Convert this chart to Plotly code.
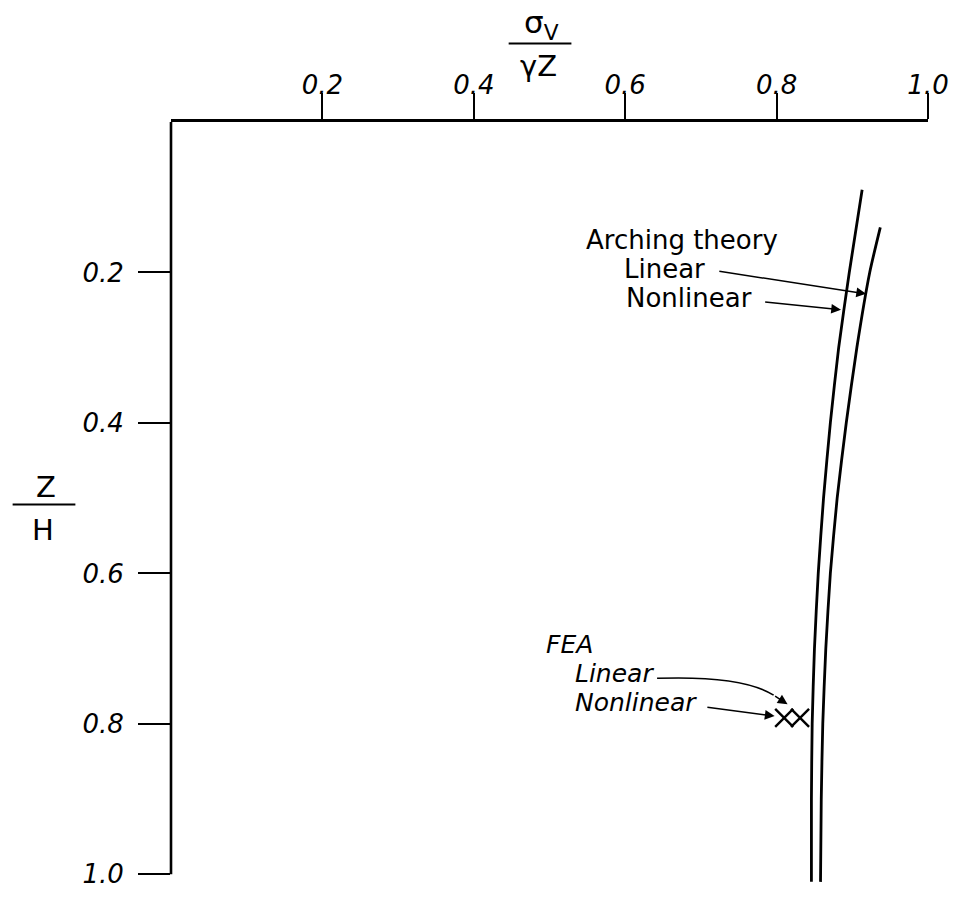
import numpy as np
import plotly.graph_objects as go

# Normalized vertical stress sigma_v / (gamma Z) against depth ratio Z/H
z_arch_linear = [0.14, 0.20, 0.30, 0.40, 0.50, 0.60, 0.70, 0.80, 0.90, 1.01]
s_arch_linear = [0.937, 0.923, 0.906, 0.892, 0.880, 0.871, 0.865, 0.861, 0.859, 0.858]

z_arch_nonlinear = [0.09, 0.20, 0.30, 0.40, 0.50, 0.60, 0.70, 0.80, 0.90, 1.01]
s_arch_nonlinear = [0.913, 0.896, 0.882, 0.871, 0.862, 0.855, 0.850, 0.847, 0.846, 0.846]

# Finite element results at a single depth
z_fea = [0.792]
s_fea_linear = [0.831]
s_fea_nonlinear = [0.810]

tick_vals = [0.2, 0.4, 0.6, 0.8, 1.0]
tick_text = ["0.2", "0.4", "0.6", "0.8", "1.0"]

# ---- layout geometry ----
W, H = 961, 901
ML, MR, MT, MB = 171, 30, 122, 13
Z_MAX = 1.0115                      # lets the curves run just past Z/H = 1
PW = W - ML - MR
PH = H - MT - MB
ZPX = PH / Z_MAX                    # pixels per unit depth


def at(px, py):
    """Pixel position on the page -> (x, z) in data units."""
    return (px - ML) / PW, (py - MT) / ZPX


def paper(px, py):
    """Pixel position on the page -> paper coordinates."""
    return (px - ML) / PW, 1 - (py - MT) / PH


INK = "black"
FONT = "DejaVu Sans"

fig = go.Figure()

line_style = dict(color=INK, width=2.8, shape="spline", smoothing=0.6)
fig.add_trace(go.Scatter(x=s_arch_linear, y=z_arch_linear, mode="lines",
                         line=line_style, name="Arching theory, linear"))
fig.add_trace(go.Scatter(x=s_arch_nonlinear, y=z_arch_nonlinear, mode="lines",
                         line=line_style, name="Arching theory, nonlinear"))

marker_style = dict(symbol="x-thin", size=18, color=INK, line=dict(color=INK, width=2.4))
fig.add_trace(go.Scatter(x=s_fea_linear, y=z_fea, mode="markers",
                         marker=marker_style, name="FEA, linear", cliponaxis=False))
fig.add_trace(go.Scatter(x=s_fea_nonlinear, y=z_fea, mode="markers",
                         marker=marker_style, name="FEA, nonlinear", cliponaxis=False))

annotations = []


def label(text, px, py, size=26, italic=False, xanchor="left"):
    x, y = paper(px, py)
    annotations.append(dict(
        x=x, y=y, xref="paper", yref="paper", text=text, showarrow=False,
        xanchor=xanchor, yanchor="middle",
        font=dict(family=FONT, size=size, color=INK,
                  style="italic" if italic else "normal")))


def arrow(head, tail):
    annotations.append(dict(
        x=head[0], y=head[1], ax=tail[0], ay=tail[1],
        xref="x", yref="y", axref="x", ayref="y", text="",
        showarrow=True, arrowhead=2, arrowsize=1.3, arrowwidth=1.5,
        arrowcolor=INK, standoff=0))


# arching theory labels
label("Arching theory", 586, 241, size=26)
label("Linear", 624, 270, size=26)
label("Nonlinear", 626, 299, size=26)

z_head_lin = at(0, 295)[1]
arrow((float(np.interp(z_head_lin, z_arch_linear, s_arch_linear)), z_head_lin), at(720, 272))
z_head_non = at(0, 311)[1]
arrow((float(np.interp(z_head_non, z_arch_nonlinear, s_arch_nonlinear)) - 0.004, z_head_non),
      at(766, 303))

# FEA labels
label("FEA", 545, 648, size=25, italic=True)
label("Linear", 575, 677, size=25, italic=True)
label("Nonlinear", 575, 706, size=25, italic=True)

# curved leader for the linear FEA point, finished with an arrowhead
p0 = at(659, 682)
pc = at(745, 679)
p1 = at(776, 699)
fea_leader = dict(type="path", xref="x", yref="y",
                  path=f"M {p0[0]},{p0[1]} Q {pc[0]},{pc[1]} {p1[0]},{p1[1]}",
                  line=dict(color=INK, width=1.5))
arrow(at(790, 708), p1)
arrow(at(777, 720), at(708, 711))

# axis titles as stacked fractions
label("σ<sub>V</sub>", 543, 24, size=31, xanchor="center")
label("γZ", 540, 66, size=29, xanchor="center")
label("Z", 46, 489, size=29, xanchor="center")
label("H", 42, 533, size=29, xanchor="center")

shapes = [fea_leader]
for (xa, xb, yy) in [(510, 573, 43), (12, 75, 507)]:
    a = paper(xa, yy)
    b = paper(xb, yy)
    shapes.append(dict(type="line", xref="paper", yref="paper",
                       x0=a[0], y0=a[1], x1=b[0], y1=b[1],
                       line=dict(color=INK, width=2)))

# left axis line stops at Z/H = 1
shapes.append(dict(type="line", xref="paper", yref="paper",
                   x0=0, x1=0, y0=1, y1=1 - 1.0 / Z_MAX,
                   line=dict(color=INK, width=2.6)))

tick_font = dict(family=FONT, size=26, color=INK, style="italic")

fig.update_layout(
    width=W, height=H,
    margin=dict(l=ML, r=MR, t=MT, b=MB, pad=0),
    paper_bgcolor="white", plot_bgcolor="white",
    showlegend=False,
    xaxis=dict(range=[0, 1], side="top", showgrid=False, zeroline=False,
               showline=True, linecolor=INK, linewidth=2.6,
               ticks="outside", ticklen=26, tickwidth=2, tickcolor=INK,
               tickvals=tick_vals, ticktext=tick_text, tickfont=tick_font,
               ticklabelstandoff=-11),
    yaxis=dict(range=[Z_MAX, 0], showgrid=False, zeroline=False,
               showline=False,
               ticks="outside", ticklen=32, tickwidth=2, tickcolor=INK,
               tickvals=tick_vals, ticktext=tick_text, tickfont=tick_font,
               ticklabelstandoff=9),
    annotations=annotations,
    shapes=shapes,
)

fig.write_html("out.html")
